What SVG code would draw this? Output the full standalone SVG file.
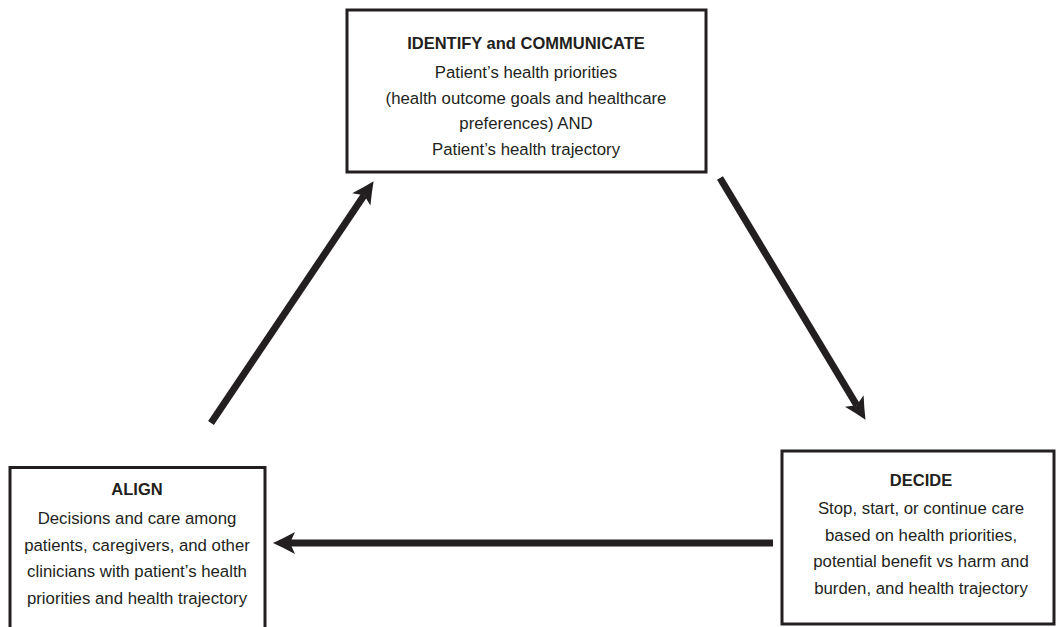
<svg xmlns="http://www.w3.org/2000/svg" width="1057" height="627" viewBox="0 0 1057 627">
<style>
.box{fill:#fff;stroke:#231f20;stroke-width:3}
.t{font-family:"Liberation Sans",Arial,sans-serif;font-size:16.8px;fill:#231f20;text-anchor:middle}
.b{font-weight:bold;font-size:16.5px}
.arr{stroke:#231f20;stroke-width:7;fill:none;marker-end:url(#head)}
</style>
<defs>
<marker id="head" markerUnits="userSpaceOnUse" markerWidth="23" markerHeight="23" refX="5" refY="11.5" orient="auto" viewBox="0 0 23 23">
<path d="M22,11.5 Q11,6.5 0,0.5 L5,11.5 L0,22.5 Q11,16.5 22,11.5 Z" fill="#231f20"/>
</marker>
</defs>
<rect width="1057" height="627" fill="#fff"/>
<g id="identify">
<rect class="box" x="347" y="10" width="359" height="162"/>
<text class="t b" x="526" y="48.5">IDENTIFY and COMMUNICATE</text>
<text class="t" x="526" y="78">Patient’s health priorities</text>
<text class="t" x="526" y="103.5">(health outcome goals and healthcare</text>
<text class="t" x="526" y="129">preferences) AND</text>
<text class="t" x="526" y="154.5">Patient’s health trajectory</text>
</g>
<g id="align">
<rect class="box" x="10" y="467.5" width="255" height="200"/>
<text class="t b" x="137" y="495">ALIGN</text>
<text class="t" x="137" y="524">Decisions and care among</text>
<text class="t" x="137" y="551">patients, caregivers, and other</text>
<text class="t" x="137" y="577">clinicians with patient’s health</text>
<text class="t" x="137" y="604">priorities and health trajectory</text>
</g>
<g id="decide">
<rect class="box" x="782" y="451" width="272" height="173"/>
<text class="t b" x="921" y="485.5">DECIDE</text>
<text class="t" x="921" y="514">Stop, start, or continue care</text>
<text class="t" x="921" y="541">based on health priorities,</text>
<text class="t" x="921" y="567">potential benefit vs harm and</text>
<text class="t" x="921" y="593.5">burden, and health trajectory</text>
</g>
<g id="connectors">
<line class="arr" x1="211" y1="423" x2="364.1" y2="195.3"/>
<line class="arr" x1="720" y1="178" x2="856.75" y2="405.3"/>
<line class="arr" x1="773" y1="543" x2="290" y2="543"/>
</g>
</svg>
